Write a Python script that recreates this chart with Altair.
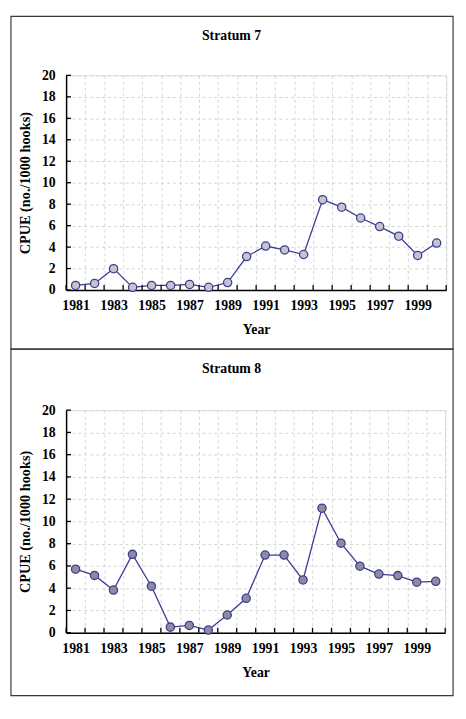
import altair as alt
import pandas as pd

years = list(range(1981, 2001))
stratum7 = [0.43, 0.61, 1.99, 0.25, 0.43, 0.43, 0.52, 0.25, 0.70, 3.12,
            4.10, 3.74, 3.31, 8.42, 7.72, 6.71, 5.91, 5.02, 3.22, 4.38]
stratum8 = [5.71, 5.15, 3.83, 7.04, 4.18, 0.50, 0.65, 0.24, 1.59, 3.09,
            6.98, 6.98, 4.74, 11.19, 8.04, 5.98, 5.27, 5.13, 4.54, 4.62]
label_years = [1981, 1983, 1985, 1987, 1989, 1991, 1993, 1995, 1997, 1999]
y_ticks = [0, 2, 4, 6, 8, 10, 12, 14, 16, 18, 20]
boundaries = [y - 0.5 for y in years] + [2000.5]

FONT = "Liberation Serif"
LINE = "#3c3c96"
GRID = "#d4d4d4"


def framed(title, values, fill, width, height, frame, title_y):
    df = pd.DataFrame({"Year": years, "CPUE": values})
    xs = alt.Scale(domain=[1980.5, 2000.5], nice=False, zero=False)
    ys = alt.Scale(domain=[0, 20], nice=False)
    lbl = "[" + ",".join(str(v) for v in label_years) + "]"
    x_axis = alt.Axis(
        values=boundaries, title="Year", grid=True, gridColor=GRID,
        gridDash=[3, 3], gridWidth=1, ticks=False, domainColor="black",
        domainWidth=1.5,
        labelExpr=f"indexof({lbl}, datum.value + 0.5) >= 0 ? toString(datum.value + 0.5) : ''",
        labelOffset=width / 40, labelFlush=False, labelOverlap=False,
        labelBound=False, labelFont=FONT, labelFontSize=14,
        labelFontWeight="bold", labelColor="black", labelPadding=9,
        titleFont=FONT, titleFontSize=14, titleFontWeight="bold",
        titleColor="black", titlePadding=10)
    y_axis = alt.Axis(
        values=y_ticks, title="CPUE (no./1000 hooks)", grid=True,
        gridColor=GRID, gridDash=[3, 3], gridWidth=1, ticks=False,
        domainColor="black", domainWidth=1.5, labelFont=FONT,
        labelFontSize=14, labelFontWeight="bold", labelColor="black",
        labelOverlap=False, labelPadding=11, titleFont=FONT,
        titleFontSize=14.5, titleFontWeight="bold", titleColor="black",
        titlePadding=9)

    X = lambda f: alt.X(f, scale=xs, axis=x_axis, title="Year")
    Y = lambda f: alt.Y(f, scale=ys, axis=y_axis, title="CPUE (no./1000 hooks)")

    base = alt.Chart(df)
    line = base.mark_line(color=LINE, strokeWidth=1.3).encode(
        x=X("Year:Q"), y=Y("CPUE:Q"))
    pts = base.mark_point(filled=True, fill=fill, stroke=LINE,
                          strokeWidth=1.3, size=70, opacity=1).encode(
        x=X("Year:Q"), y=Y("CPUE:Q"))
    xt = alt.Chart(pd.DataFrame({"b": boundaries})).mark_rule(
        color="black", strokeWidth=1.3).encode(
        x=X("b:Q"), y=alt.value(height), y2=alt.value(height - 5))
    yt = alt.Chart(pd.DataFrame({"t": y_ticks})).mark_rule(
        color="black", strokeWidth=1.3).encode(
        y=Y("t:Q"), x=alt.value(0), x2=alt.value(5))

    fx, fx2, fy, fy2 = frame
    box = alt.Chart(pd.DataFrame({"k": [0]})).mark_rect(
        fillOpacity=0, stroke="#3a3a3a", strokeWidth=1.2).encode(
        x=alt.value(fx), x2=alt.value(fx2), y=alt.value(fy), y2=alt.value(fy2))
    ttl = alt.Chart(pd.DataFrame({"t": [title]})).mark_text(
        font=FONT, fontSize=14, fontWeight="bold", color="black",
        baseline="middle", align="center").encode(
        text="t:N", x=alt.value(168), y=alt.value(title_y))
    return alt.layer(line, pts, xt, yt, box, ttl).properties(
        width=width, height=height)


top = framed("Stratum 7", stratum7, "#c4c4cc", 386, 218, (-56, 393, -60, 278), -40)
bottom = framed("Stratum 8", stratum8, "#8c8c9c", 385, 226, (-56, 393, -62, 290), -42)

chart = alt.vconcat(top, bottom, spacing=122, bounds="flush").properties(
    padding={"left": 1, "top": 1, "right": 1, "bottom": 1}
).configure_view(stroke="#9a9a9a", strokeWidth=1).configure(background="white")

chart.save("out.html", embed_options={"renderer": "svg", "actions": False})
